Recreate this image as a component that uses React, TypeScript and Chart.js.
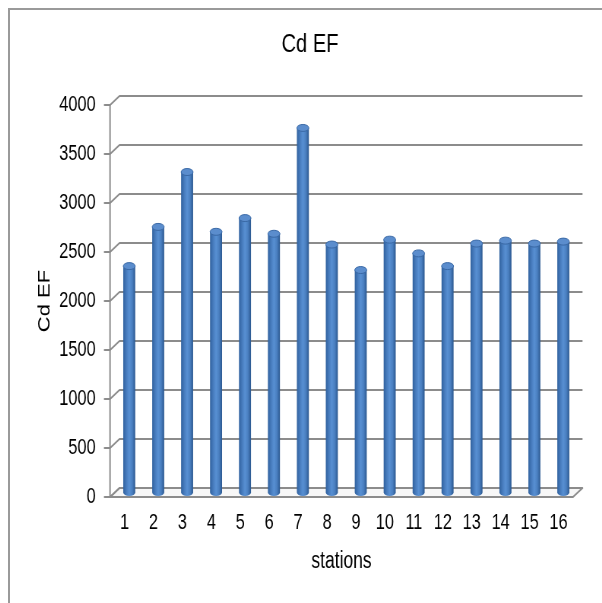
import { useEffect, useRef } from "react";
import { Chart, registerables } from "chart.js";

Chart.register(...registerables);

const stations = ["1", "2", "3", "4", "5", "6", "7", "8", "9", "10", "11", "12", "13", "14", "15", "16"];
const cdEF = [2310, 2710, 3270, 2660, 2800, 2640, 3720, 2530, 2270, 2580, 2440, 2310, 2540, 2570, 2540, 2560];
const yMin = 0;
const yMax = 4000;
const yStep = 500;

// the reference picture is squeezed sideways, so the chart is drawn wider and scaled in x
const SQUEEZE = 0.76;
const CANVAS_W = 779;
const CANVAS_H = 592;
// depth of the fake 3d box (front plane -> back wall)
const DX = 12.5;
const DY = 9;
const GRID = "#8c8c8c";
const FONT = "'Liberation Sans', Arial, sans-serif";

const box3d = {
    id: "box3d",
    beforeDatasetsDraw(chart: any) {
        const {ctx, chartArea: a} = chart;
        const y = chart.scales.y;
        const y0 = y.getPixelForValue(yMin);
        ctx.save();
        ctx.lineWidth = 2;
        ctx.strokeStyle = GRID;
        ctx.lineJoin = "round";

        // floor
        ctx.beginPath();
        ctx.moveTo(a.left, y0);
        ctx.lineTo(a.right, y0);
        ctx.lineTo(a.right + DX, y0 - DY);
        ctx.lineTo(a.left + DX, y0 - DY);
        ctx.closePath();
        ctx.fillStyle = "#f7f7f7";
        ctx.fill();
        ctx.stroke();

        // grid lines on the back wall, joined to the front axis
        y.ticks.forEach((t: any) => {
            const py = y.getPixelForValue(t.value);
            ctx.beginPath();
            ctx.moveTo(a.left - 8, py);
            ctx.lineTo(a.left, py);
            ctx.lineTo(a.left + DX, py - DY);
            ctx.lineTo(a.right + DX, py - DY);
            ctx.stroke();
        });

        // front value axis
        ctx.beginPath();
        ctx.moveTo(a.left, y.getPixelForValue(yMax));
        ctx.lineTo(a.left, y0);
        ctx.stroke();
        ctx.restore();
    },
    afterDatasetsDraw(chart: any) {
        const {ctx} = chart;
        const meta = chart.getDatasetMeta(0);
        ctx.save();
        meta.data.forEach((el: any) => {
            const p = el.getProps(["x", "y", "base", "width"], true);
            const cx = p.x + DX / 2;
            const top = p.y - DY / 2;
            const bottom = p.base - DY / 2;
            const rx = p.width / 2;
            const ry = 3.5;

            const g = ctx.createLinearGradient(cx - rx, 0, cx + rx, 0);
            g.addColorStop(0, "#30619e");
            g.addColorStop(0.3, "#4a7fc1");
            g.addColorStop(0.5, "#5890d3");
            g.addColorStop(0.75, "#4a7fc0");
            g.addColorStop(1, "#2a578f");

            ctx.beginPath();
            ctx.moveTo(cx - rx, top);
            ctx.lineTo(cx - rx, bottom);
            ctx.ellipse(cx, bottom, rx, ry, 0, Math.PI, 0, true);
            ctx.lineTo(cx + rx, top);
            ctx.closePath();
            ctx.fillStyle = g;
            ctx.fill();

            ctx.beginPath();
            ctx.ellipse(cx, top, rx, ry, 0, 0, Math.PI * 2);
            ctx.fillStyle = "#5b8dcd";
            ctx.fill();
            ctx.lineWidth = 1;
            ctx.strokeStyle = "#3a69a6";
            ctx.stroke();
        });
        ctx.restore();
    }
};

export default function App() {
    const canvas = useRef<HTMLCanvasElement | null>(null);

    useEffect(() => {
        const chart = new Chart(canvas.current as HTMLCanvasElement, {
            type: "bar",
            data: {
                labels: stations,
                datasets: [{
                    label: "Cd EF",
                    data: cdEF,
                    backgroundColor: "rgba(0,0,0,0)",
                    borderWidth: 0,
                    barPercentage: 0.415,
                    categoryPercentage: 1
                }]
            },
            options: {
                animation: false,
                responsive: true,
                maintainAspectRatio: false,
                layout: {padding: {left: 48.6, right: 38.2, top: 0, bottom: 22.2}},
                plugins: {
                    legend: {display: false},
                    tooltip: {enabled: false},
                    title: {
                        display: true,
                        text: "Cd EF",
                        color: "#000",
                        font: {family: FONT, size: 26.5, weight: "normal"},
                        padding: {top: 19.1, bottom: 44.1}
                    }
                },
                scales: {
                    x: {
                        offset: true,
                        grid: {display: false, drawTicks: false},
                        border: {display: false},
                        ticks: {
                            padding: 13.1,
                            maxRotation: 0,
                            color: "#000",
                            font: {family: FONT, size: 21.5}
                        },
                        title: {
                            display: true,
                            text: "stations",
                            color: "#000",
                            font: {family: FONT, size: 23},
                            padding: {top: 4, bottom: 4}
                        },
                        afterFit: (s: any) => {
                            s.height = 82.8;
                        }
                    },
                    y: {
                        min: yMin,
                        max: yMax,
                        grid: {display: false, drawTicks: false},
                        border: {display: false},
                        ticks: {
                            stepSize: yStep,
                            padding: 19,
                            color: "#000",
                            font: {family: FONT, size: 21.5},
                            callback: (v: any) => String(v)
                        },
                        title: {
                            display: true,
                            text: "Cd EF",
                            color: "#000",
                            font: {family: FONT, size: 22},
                            // the layout's left padding is there to centre the chart title,
                            // so the axis title is pulled back to the edge
                            padding: {top: -15.8, bottom: 0}
                        },
                        afterFit: (s: any) => {
                            s.width = 83;
                        }
                    }
                }
            },
            plugins: [box3d]
        });
        return () => {
            chart.destroy();
        };
    }, []);

    return <div style={{
        position: "absolute",
        left: 8,
        top: 8,
        width: 594,
        height: 595,
        boxSizing: "border-box",
        borderTop: "2px solid #9a9a9a",
        borderLeft: "2px solid #9a9a9a",
        overflow: "hidden",
        background: "#fff"
    }}>
        <div style={{
            position: "relative",
            width: CANVAS_W,
            height: CANVAS_H,
            transform: `scaleX(${SQUEEZE})`,
            transformOrigin: "0 0"
        }}>
            <canvas ref={canvas}></canvas>
        </div>
    </div>;
}
